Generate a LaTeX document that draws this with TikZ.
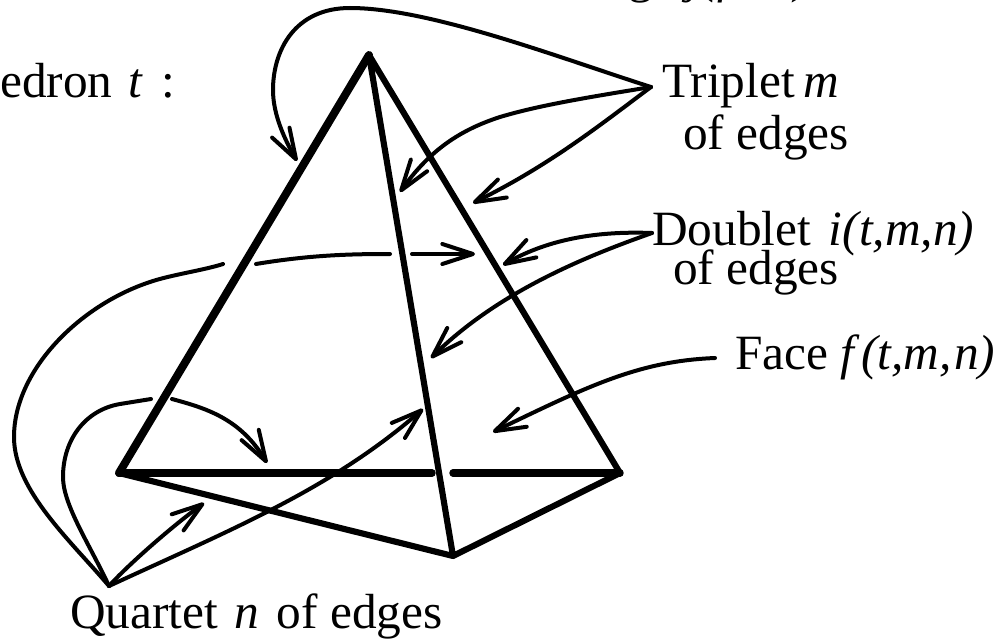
\documentclass[tikz,border=0pt]{standalone}
\usepackage{fontspec}
\setmainfont{Liberation Serif}
\usetikzlibrary{arrows.meta}
\tikzset{
  edgeline/.style={line width=4.6pt, line join=round, line cap=round},
  pointer/.style={line width=3pt, line cap=round, line join=round},
  barbed/.style={pointer, -{Straight Barb[length=23pt, width=15pt, round]}},
  lab/.style={anchor=base west, inner sep=0pt, font=\fontsize{37}{40}\selectfont}
}
\begin{document}
\begin{tikzpicture}[x=0.75pt, y=-0.75pt]
\useasboundingbox (0,0) rectangle (1005,642);
\clip (0,0) rectangle (1005,642);
% ---- vertices ----
\coordinate (apex) at (369,55);
\coordinate (baseL) at (119,473);
\coordinate (baseR) at (620,473);
\coordinate (baseF) at (453,556);
\coordinate (gapL) at (432,473);
\coordinate (gapR) at (453,473);
% ---- fans of pointers start here ----
\coordinate (hubT) at (651,87);
\coordinate (hubD) at (652,233);
\coordinate (hubQ) at (109,586);
\coordinate (hubF) at (715,358);
% ---- tips ----
\coordinate (tipA) at (297,161);
\coordinate (tipB) at (400,192);
\coordinate (tipC) at (473,203);
\coordinate (tipD) at (503,265);
\coordinate (tipE) at (431,358);
\coordinate (tipF) at (493,432);
\coordinate (tipG) at (475,254);
\coordinate (tipH) at (267,463);
\coordinate (tipI) at (204,503);
\coordinate (tipJ) at (423,409);
% ---- tetrahedron ----
\draw[edgeline, line width=6pt] (apex) -- (baseL);
\draw[edgeline, line width=5.6pt] (baseL) -- (gapL);
\draw[edgeline, line width=5.6pt] (gapR) -- (baseR);
\draw[edgeline] (baseL) -- (baseF) -- (baseR) -- (apex) -- (baseF);
% ---- triplet ----
\draw[barbed] (hubT) .. controls (560,58) and (430,8) .. (350,8)
  .. controls (295,8) and (273,50) .. (273,90) .. controls (273,115) and (285,140) .. (tipA);
\draw[barbed] (hubT) .. controls (590,97) and (540,105) .. (500,117)
  .. controls (460,130) and (430,150) .. (tipB);
\draw[barbed] (hubT) .. controls (600,125) and (550,165) .. (tipC);
% ---- doublet ----
\draw[barbed] (hubD) .. controls (600,231) and (550,238) .. (tipD);
\draw[barbed] (hubD) .. controls (590,255) and (500,290) .. (tipE);
% ---- face ----
\draw[barbed] (hubF) .. controls (640,361) and (590,385) .. (tipF);
% ---- quartet, broken where it passes behind ----
\draw[pointer] (hubQ) .. controls (70,540) and (14,490) .. (14,437)
  .. controls (14,370) and (80,305) .. (150,282) .. controls (170,275) and (205,270) .. (223,264);
\draw[pointer] (256,264) .. controls (310,255) and (350,254) .. (390,254);
\draw[barbed] (412,254) -- (tipG);
\draw[pointer] (hubQ) .. controls (90,545) and (63,505) .. (63,477)
  .. controls (63,440) and (85,410) .. (120,404) -- (151,399);
\draw[barbed] (172,399) .. controls (205,408) and (240,418) .. (tipH);
\draw[barbed] (hubQ) .. controls (128,565) and (170,528) .. (tipI);
\draw[barbed] (hubQ) .. controls (230,530) and (330,490) .. (tipJ);
% ---- labels ----
\node[lab, anchor=base east] (edgeLab) at (811,-7) {Edge \textit{j(f,t,n)}};
\node[lab] (tetLab) at (0,98) {edron\hspace{3pt} \textit{t}\hspace{4pt} :};
\node[lab] (tripLab) at (662,97) {Triplet\,\textit{m}};
\node[lab] (tripLabB) at (683,149) {of edges};
\node[lab] (doubLab) at (652,245) {Doublet\hspace{4pt} \textit{i(t,m,n)}};
\node[lab] (doubLabB) at (673,284) {of edges};
\node[lab] (faceLab) at (735,369) {Face \textit{f\kern5pt(t,m,\kern2pt n)}};
\node[lab] (quarLab) at (70,628) {Quartet\hspace{3pt} \textit{n}\hspace{4pt} of edges};
\end{tikzpicture}
\end{document}
